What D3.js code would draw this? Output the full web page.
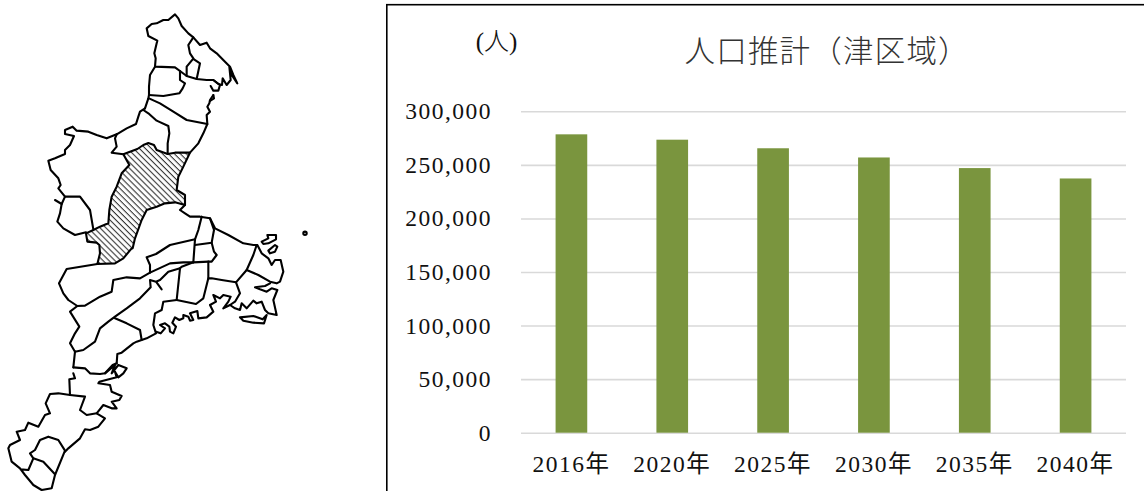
<!DOCTYPE html>
<html>
<head>
<meta charset="utf-8">
<style>
html, body { margin: 0; padding: 0; background: #fff; overflow: hidden; }
svg { display: block; }
text { font-family: "Liberation Serif", "Noto Sans CJK JP", serif; fill: #111; }
.axis text { font-size: 23.5px; letter-spacing: 1.5px; fill: #111; }
.axis path { display: none; }
.axis--y line { stroke: #d9d9d9; stroke-width: 1.6px; }
.axis--x line { display: none; }
.map-line { fill: none; stroke: #000; stroke-width: 2.1px; stroke-linejoin: round; stroke-linecap: round; }
</style>
</head>
<body>
<svg id="chart" width="1144" height="491"></svg>
<script src="https://cdn.jsdelivr.net/npm/d3@7"></script>
<script>

// chart values
var years = ["2016年", "2020年", "2025年", "2030年", "2035年", "2040年"];
var population = [278500, 273500, 265500, 256900, 247000, 237300];
var yTicks = [0, 50000, 100000, 150000, 200000, 250000, 300000];
var titleText = "人口推計（津区域）";
var unitText = "(人)";

// map, grid is 3 units per pixel
var tsuArea = [[370,463],[390,455],[412,447],[430,435],[445,429],[462,435],[470,450],[503,462],[525,458],[570,458],[550,500],[535,530],[530,570],[555,585],[555,615],[525,607],[495,610],[470,620],[440,630],[425,660],[405,715],[398,745],[395,745],[370,775],[345,790],[292,792],[300,760],[298,735],[290,728],[262,725],[258,700],[280,690],[300,680],[325,670],[328,630],[335,590],[350,560],[365,520],[388,495],[370,463]];
var northLines = [
  [[465,200],[467,175],[463,160],[470,130],[472,122],[445,108],[440,85],[455,72],[470,70],[490,60],[505,60],[525,43],[535,55],[545,78],[565,100],[580,112],[600,135],[620,128],[630,145],[650,160],[675,185],[690,200],[700,225],[712,250],[695,225],[688,200],[692,240],[680,255],[668,235],[666,255],[655,252],[640,240],[620,240],[590,237],[560,228],[540,213],[525,202],[465,200]],
  [[580,112],[565,135],[570,160],[582,178],[600,190],[590,237]],
  [[578,178],[560,200],[560,228]],
  [[465,200],[450,225],[447,260],[447,285]],
  [[540,213],[540,240],[555,250],[548,265],[538,280],[490,288],[447,285]],
  [[640,240],[660,255],[655,272],[640,272],[632,258]],
  [[640,285],[630,300],[628,310],[622,320],[630,335],[620,345],[622,372],[610,400],[595,430],[570,458]],
  [[640,285],[642,295],[630,303]],
  [[447,285],[445,295],[435,325]],
  [[447,295],[480,310],[520,335],[560,360],[622,372]],
  [[435,325],[420,335],[415,350],[408,372],[380,385],[350,403]],
  [[430,330],[445,340],[470,362],[505,378],[508,400],[503,430],[503,462]],
  [[350,403],[345,415],[350,440],[335,458],[370,463]]
];
var iga = [
  [[350,403],[320,415],[290,405],[265,395],[230,392],[218,380],[195,390],[195,402],[222,408],[210,435],[195,450],[195,462],[165,475],[145,482],[152,510],[175,535],[182,555],[175,565],[195,590],[225,590],[240,590],[270,630],[280,688]],
  [[195,590],[185,612],[180,640],[172,665],[190,685],[225,705],[258,697]],
  [[165,600],[185,612]]
];
var middleLines = [
  [[292,792],[200,807],[177,850],[190,880],[205,900],[232,918],[255,917],[300,890],[335,875],[340,840],[380,832],[420,835],[450,818],[510,790],[550,787],[580,787],[625,785]],
  [[555,615],[540,630],[555,640],[570,650],[600,650],[630,655],[645,685],[685,705],[730,730],[760,735],[770,735]],
  [[450,818],[450,795],[440,772],[468,762],[510,735],[585,718],[595,690],[605,650]],
  [[630,655],[642,690],[635,728],[585,735]],
  [[585,718],[580,787]],
  [[635,728],[642,755],[650,765],[635,785],[625,785],[625,835],[635,835],[665,840],[708,847],[740,810],[760,765],[770,735]],
  [[708,847],[720,880],[705,905],[690,915]],
  [[740,810],[775,825],[810,845],[830,850],[840,845],[850,815],[842,780],[825,780],[815,795],[805,775],[785,760],[772,735]],
  [[625,835],[610,895],[588,912],[530,900],[540,805],[505,815],[480,840],[468,845],[485,868],[468,845],[450,840],[452,862],[420,895],[380,925],[345,950],[325,965],[300,985],[285,1025],[250,1050],[225,1055],[210,1030],[225,1000],[238,980],[210,935],[232,918]],
  [[540,805],[545,800],[580,787]],
  [[345,955],[380,970],[420,990],[425,1020]],
  [[530,900],[490,905],[485,930],[465,940],[460,975],[468,1000],[440,1015],[425,1020],[410,1025],[400,1030],[365,1058],[352,1062],[350,1090]],
  [[468,995],[482,1000],[495,985],[480,975],[495,970],[508,980],[510,995],[520,1000],[528,980],[517,968],[525,952],[538,960],[550,955],[550,945],[565,950],[570,962],[580,960],[570,940],[592,933],[595,955],[620,952],[640,935],[630,915],[648,905],[640,885],[660,895],[670,885],[692,890],[685,905],[670,925],[690,915],[705,925],[720,930],[725,910],[740,925],[760,902],[770,910],[785,905],[795,930],[805,940],[830,945],[820,900],[832,870],[815,865],[800,875],[780,868],[765,862],[795,858],[810,850]]
];
var southLines = [
  [[225,1055],[220,1102]],
  [[220,1102],[255,1105],[270,1120],[300,1122],[315,1120],[338,1095],[350,1090]],
  [[315,1120],[345,1095],[335,1120],[355,1095],[380,1105],[370,1120],[355,1132],[345,1115],[350,1132],[298,1145],[295,1150],[330,1155],[335,1175],[365,1188],[358,1200],[335,1205],[350,1225],[335,1225],[310,1215],[290,1240],[315,1255],[295,1280],[270,1290],[255,1288],[240,1315],[205,1345],[195,1355]],
  [[220,1120],[225,1135],[208,1138],[210,1185],[175,1180],[150,1182],[137,1210],[150,1240],[135,1245],[115,1280],[85,1268],[75,1290],[50,1295],[60,1320],[30,1335],[25,1345],[35,1385],[60,1405],[75,1425],[100,1455],[125,1470],[155,1465],[165,1425],[195,1352],[175,1320],[145,1310],[120,1320],[105,1350],[90,1360],[100,1375],[85,1410],[62,1408]],
  [[100,1375],[130,1385],[165,1423]],
  [[210,1185],[255,1190],[240,1230],[260,1245],[290,1240]]
];
var islands = [
  [[720,952],[760,948],[788,958],[800,945],[792,970],[760,968],[730,962],[720,952]],
  [[785,725],[805,715],[802,705],[828,705],[828,718],[805,730],[790,732],[785,725]],
  [[805,752],[825,735],[832,740],[825,755],[810,760],[805,752]]
];
var tinyIsland = [[915,700]];

var svg = d3.select("#chart"),
    margin = {top: 111.3, right: 18, bottom: 58.3, left: 521},
    width = +svg.attr("width") - margin.left - margin.right,
    height = +svg.attr("height") - margin.top - margin.bottom;

var x = d3.scaleBand().domain(years).range([0, width]).paddingInner(0.686).paddingOuter(0.343),
    y = d3.scaleLinear().domain([0, 300000]).range([height, 0]);

// map
var mapX = d3.scaleLinear().domain([0, 960]).range([0, 320]),
    mapY = d3.scaleLinear().domain([0, 1473]).range([0, 491]);

var line = d3.line()
    .x(function(d) { return mapX(d[0]); })
    .y(function(d) { return mapY(d[1]); });

var defs = svg.append("defs");
var hatch = defs.append("pattern")
    .attr("id", "hatch")
    .attr("patternUnits", "userSpaceOnUse")
    .attr("width", 4.2)
    .attr("height", 4.2)
    .attr("patternTransform", "rotate(-45)");
hatch.append("line")
    .attr("x1", 2).attr("x2", 2)
    .attr("y1", 0).attr("y2", 4.2)
    .style("stroke", "#333")
    .style("stroke-width", 1.1);

var map = svg.append("g").attr("class", "map");

map.append("path")
    .attr("class", "map-line")
    .style("fill", "url(#hatch)")
    .attr("d", line(tsuArea));

map.selectAll(".district")
    .data(northLines.concat(iga, middleLines, southLines, islands))
  .enter().append("path")
    .attr("class", "map-line district")
    .attr("d", line);

map.selectAll(".tiny")
    .data(tinyIsland)
  .enter().append("circle")
    .attr("class", "map-line tiny")
    .attr("cx", function(d) { return mapX(d[0]); })
    .attr("cy", function(d) { return mapY(d[1]); })
    .attr("r", 1.7);

// frame, runs off the right and bottom of the picture
svg.append("rect")
    .attr("x", 386.8)
    .attr("y", 4.7)
    .attr("width", 800)
    .attr("height", 600)
    .style("fill", "none")
    .style("stroke", "#000")
    .style("stroke-width", 1.6);

var g = svg.append("g")
    .attr("transform", "translate(" + margin.left + "," + margin.top + ")");

g.append("g")
    .attr("class", "axis axis--y")
    .call(d3.axisLeft(y).tickValues(yTicks).tickFormat(d3.format(",")).tickSize(-width).tickPadding(29));

g.append("g")
    .attr("class", "axis axis--x")
    .attr("transform", "translate(0," + height + ")")
    .call(d3.axisBottom(x).tickSize(0).tickPadding(23));

g.selectAll(".bar")
    .data(population)
  .enter().append("rect")
    .attr("class", "bar")
    .attr("x", function(d, i) { return x(years[i]); })
    .attr("y", function(d) { return y(d); })
    .attr("width", x.bandwidth())
    .attr("height", function(d) { return height - y(d); })
    .style("fill", "#7a953e");

svg.append("text")
    .attr("x", 684.5)
    .attr("y", 62)
    .style("font-size", "30.5px")
    .style("font-weight", 300)
    .style("letter-spacing", "1.2px")
    .style("fill", "#333")
    .text(titleText);

svg.append("text")
    .attr("x", 496.5)
    .attr("y", 50)
    .style("text-anchor", "middle")
    .style("font-size", "25px")
    .style("font-weight", 300)
    .text(unitText);

</script>
</body>
</html>
